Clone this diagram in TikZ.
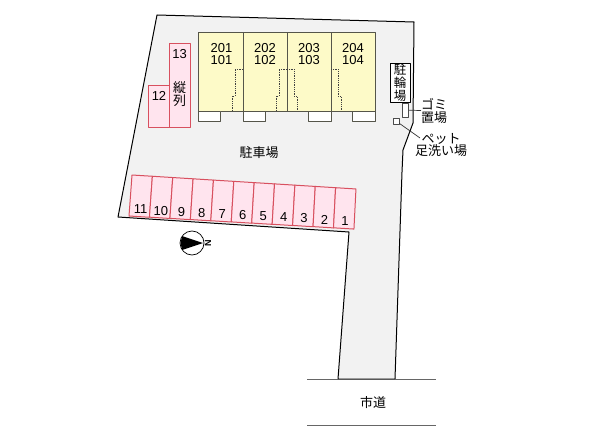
\documentclass[tikz,border=0pt]{standalone}
\usepackage{fontspec}
\usepackage{tikz}
\setmainfont{Liberation Sans}
\newfontfamily\cjk{Noto Sans CJK JP}
\definecolor{sitegray}{HTML}{F2F2F2}
\definecolor{unityellow}{HTML}{FDFAC8}
\definecolor{parkpink}{HTML}{FFE4EE}
\definecolor{parkred}{HTML}{D8505F}
\definecolor{wallgray}{HTML}{55554A}

\begin{document}
\begin{tikzpicture}[x=1pt, y=-1pt, line join=round,
    unitbox/.style={draw=wallgray, line width=0.9pt, fill=unityellow},
    balcony/.style={draw=wallgray, line width=0.8pt, fill=white},
    parkbox/.style={draw=parkred, line width=1pt, fill=parkpink},
    stair/.style={densely dotted, line width=0.8pt, black!75},
    label/.style={inner sep=0pt, font=\fontsize{13}{12}\selectfont, align=center},
    jlabel/.style={inner sep=0pt, font=\cjk\fontsize{13}{12.5}\selectfont, align=center},
    lead/.style={line width=0.7pt, black!80}]
  \useasboundingbox (0,0) rectangle (600,436);
  % site
  \draw[fill=sitegray, line width=1pt] (157,15) -- (414,22) -- (413,123) -- (403,150) -- (402,172) -- (395,379) -- (338,379) -- (349,232) -- (118,217) -- cycle;
  % road
  \draw[line width=0.8pt, black!60] (307,379) -- (338,379);
  \draw[line width=0.8pt, black!60] (395,379) -- (436,379);
  \draw[line width=0.8pt, black!60] (307,425.5) -- (436,425.5);
  \node[jlabel] (road) at (373,403) {市道};
  % units
  \foreach \xa/\xb in {198/243, 243/287, 287/331, 331/375}
    \draw[unitbox] (\xa,32) rectangle (\xb,111);
  \foreach \xa/\xb in {198/220.5, 243/265, 308/331, 352/375}
    \draw[balcony] (\xa,111) rectangle (\xb,121);
  \draw[stair] (243,69) -- (235,69) -- (235,96) -- (232,96) -- (232,111);
  \draw[stair] (287,69) -- (279,69) -- (279,96) -- (276,96) -- (276,111);
  \draw[stair] (287,69) -- (294,69) -- (294,96) -- (297,96) -- (297,111);
  \draw[stair] (331,69) -- (338,69) -- (338,96) -- (341,96) -- (341,111);
  \node[label] (u1) at (221.5,54) {201\\101};
  \node[label] (u2) at (265,54) {202\\102};
  \node[label] (u3) at (309,54) {203\\103};
  \node[label] (u4) at (353,54) {204\\104};
  % parking
  \draw[parkbox] (148,86) rectangle (169,127);
  \draw[parkbox] (169,44) rectangle (190,127);
  \node[label] (p12) at (159,96) {12};
  \node[label] (p13) at (179.5,54) {13};
  \node[jlabel] (tate) at (179.5,94) {縦\\列};
  \foreach \k/\lab in {0/11, 1/10, 2/9, 3/8, 4/7, 5/6, 6/5, 7/4, 8/3, 9/2, 10/1} {
    \draw[parkbox] (132+\k*20.36,175+\k*1.27) -- (132+\k*20.36+20.36,176.27+\k*1.27)
      -- (129+\k*20.45+20.45,217.27+\k*1.18) -- (129+\k*20.45,216+\k*1.18) -- cycle;
    \node[label] at (140.5+\k*20.45,209.5+\k*1.12) {\lab};
  }
  \node[jlabel] (lot) at (259,153) {駐車場};
  % bikes, trash, pet
  \node[draw, fill=white, line width=0.8pt, minimum width=20pt, minimum height=39pt, inner sep=0pt, font=\cjk\fontsize{12.5}{12.8}\selectfont, align=center] (bike) at (400,82.5) {駐\\輪\\場};
  \node[draw=black!70, fill=white, line width=0.7pt, minimum width=6pt, minimum height=14pt, inner sep=0pt] (trash) at (405,110) {};
  \node[draw=black!70, fill=white, line width=0.7pt, minimum size=6pt, inner sep=0pt] (pet) at (396,121) {};
  \node[jlabel, anchor=west] (trashtext) at (421,111) {ゴミ\\置場};
  \node[jlabel] (pettext) at (441,145) {ペット\\足洗い場};
  \coordinate (petend) at (420,138);
  \draw[lead] (trash) -- (trashtext);
  \draw[lead] (pet) -- (petend);
  % north mark
  \node[circle, draw, fill=white, line width=0.7pt, minimum size=24pt, inner sep=0pt] (north) at (192,243) {};
  \fill (180.5,243) -- (182,236) -- (203,243) -- (182,250) -- cycle;
  \node[inner sep=0pt, rotate=90, font=\bfseries\fontsize{9}{9}\selectfont] (nlabel) at (208,243) {N};
\end{tikzpicture}
\end{document}
